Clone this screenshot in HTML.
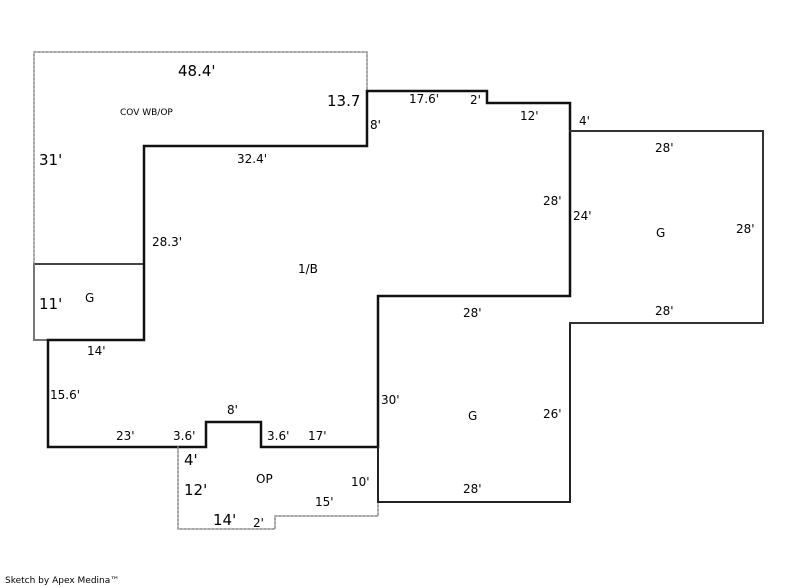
<!DOCTYPE html>
<html><head><meta charset="utf-8"><style>
html,body{margin:0;padding:0;background:#fff;width:800px;height:587px;overflow:hidden}
svg text{font-family:"DejaVu Sans","Liberation Sans",sans-serif;font-size:12px;fill:#000}
svg text.b{font-size:15px}
svg text.s{font-size:9px}
</style></head><body>
<svg width="800" height="587" viewBox="0 0 800 587" xmlns="http://www.w3.org/2000/svg">
<g fill="none" stroke-linecap="square">
<!-- dotted cov wb/op -->
<path d="M34,264 V52 H367 V91" stroke="#888" stroke-width="1.5" stroke-dasharray="2,2"/>
<path d="M34,264 H144" stroke="#444" stroke-width="2" stroke-dasharray="2,1"/>
<!-- left G box -->
<path d="M34,264 V340 H48" stroke="#777" stroke-width="2"/>
<!-- main 1/B -->
<path d="M48,340 H144 V146 H367 V91 H487 V103 H570 V296 H378 V447 H261 V422 H206 V447 H48 Z" stroke="#111" stroke-width="2.5"/>
<!-- OP dotted -->
<path d="M178,447 V529 H275 V516 H378 V502" stroke="#888" stroke-width="1.5" stroke-dasharray="2,2"/>
<!-- bottom garage -->
<path d="M378,447 V502 H570 V323" stroke="#222" stroke-width="2"/>
<!-- right garage -->
<path d="M570,131 H763 V323 H570" stroke="#333" stroke-width="2"/>
</g>
<text class="b" x="178" y="76">48.4'</text>
<text class="b" x="327" y="106">13.7</text>
<text class="s" x="120" y="115">COV WB/OP</text>
<text class="b" x="39" y="165">31'</text>
<text x="370" y="129">8'</text>
<text x="237" y="163">32.4'</text>
<text x="152" y="246">28.3'</text>
<text x="298" y="273">1/B</text>
<text class="b" x="39" y="309">11'</text>
<text x="85" y="302">G</text>
<text x="87" y="355">14'</text>
<text x="50" y="399">15.6'</text>
<text x="116" y="440">23'</text>
<text x="173" y="440">3.6'</text>
<text x="227" y="414">8'</text>
<text x="267" y="440">3.6'</text>
<text x="308" y="440">17'</text>
<text class="b" x="184" y="465">4'</text>
<text class="b" x="184" y="495">12'</text>
<text x="256" y="483">OP</text>
<text x="351" y="486">10'</text>
<text x="315" y="506">15'</text>
<text class="b" x="213" y="525">14'</text>
<text x="253" y="527">2'</text>
<text x="409" y="103">17.6'</text>
<text x="470" y="104">2'</text>
<text x="520" y="120">12'</text>
<text x="579" y="125">4'</text>
<text x="655" y="152">28'</text>
<text x="543" y="205">28'</text>
<text x="573" y="220">24'</text>
<text x="656" y="237">G</text>
<text x="736" y="233">28'</text>
<text x="463" y="317">28'</text>
<text x="655" y="315">28'</text>
<text x="381" y="404">30'</text>
<text x="468" y="420">G</text>
<text x="543" y="418">26'</text>
<text x="463" y="493">28'</text>
<text class="s" x="5" y="583">Sketch by Apex Medina™</text>
</svg>
</body></html>
